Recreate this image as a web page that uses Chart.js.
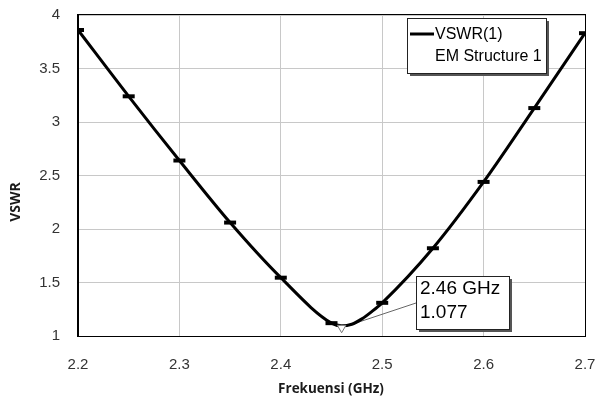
<!DOCTYPE html>
<html>
<head>
<meta charset="utf-8">
<script src="https://cdn.jsdelivr.net/npm/chart.js@4.4.0/dist/chart.umd.min.js"></script>
<style>
	html, body { margin: 0; padding: 0; background: #fff; }
	#wrap { width: 595px; height: 401px; position: relative; }
</style>
</head>
<body>
<div id="wrap"><canvas id="chart"></canvas></div>
<script>
// curve (dashes sit on the 0.05 GHz steps)
const freqGHz = [2.2, 2.25, 2.3, 2.35, 2.4, 2.45, 2.46, 2.47, 2.48, 2.49, 2.5, 2.55, 2.6, 2.65, 2.7];
const vswr = [3.86, 3.24, 2.64, 2.06, 1.545, 1.12, 1.095, 1.11, 1.16, 1.23, 1.31, 1.82, 2.44, 3.13, 3.83];

// marker at the minimum
const markerFreq = [2.46];
const markerVswr = [1.077];
const markerText = ['2.46 GHz', '1.077'];

const legendText = ['VSWR(1)', 'EM Structure 1'];
const xTicks = [2.2, 2.3, 2.4, 2.5, 2.6, 2.7];
const yTicks = [1, 1.5, 2, 2.5, 3, 3.5, 4];
const xTitle = 'Frekuensi (GHz)';
const yTitle = 'VSWR';

const tickFont = { family: '"Liberation Sans", Arial, sans-serif', size: 15 };
const isStep = (f) => Math.abs(f * 20 - Math.round(f * 20)) < 1e-6;

const drawBox = (ctx, x, y, w, h) => {
	ctx.fillStyle = '#555';
	ctx.fillRect(x + 3, y + 3, w, h);
	ctx.fillStyle = '#fff';
	ctx.fillRect(x, y, w, h);
	ctx.strokeStyle = '#222';
	ctx.lineWidth = 1;
	ctx.strokeRect(x + 0.5, y + 0.5, w, h);
};

const overlay = {
	id: 'overlay',
	beforeDatasetsDraw(chart) {
		// leader from the callout to the marker, under the curve
		const { ctx, scales: { x, y } } = chart;
		ctx.save();
		ctx.strokeStyle = '#666';
		ctx.lineWidth = 1;
		ctx.beginPath();
		ctx.moveTo(416, 303);
		ctx.lineTo(x.getPixelForValue(markerFreq[0]), y.getPixelForValue(markerVswr[0]));
		ctx.stroke();
		ctx.restore();
	},
	afterDraw(chart) {
		const { ctx, chartArea: a } = chart;
		ctx.save();

		// plot frame
		ctx.strokeStyle = '#000';
		ctx.lineWidth = 1;
		ctx.strokeRect(Math.round(a.left) - 0.5, Math.round(a.top) - 0.5, Math.round(a.right - a.left) + 1, Math.round(a.bottom - a.top) + 1);

		// axis titles
		ctx.fillStyle = '#1a1a1a';
		ctx.textAlign = 'center';
		ctx.textBaseline = 'middle';
		ctx.font = 'bold 13.5px "Open Sans", sans-serif';
		ctx.fillText(xTitle, 331, 389);
		ctx.save();
		ctx.translate(16, 202);
		ctx.rotate(-Math.PI / 2);
		ctx.font = 'bold 14px "Open Sans", sans-serif';
		ctx.fillText(yTitle, 0, 0);
		ctx.restore();

		// legend
		drawBox(ctx, 407, 18, 139, 55);
		ctx.strokeStyle = '#000';
		ctx.lineWidth = 3;
		ctx.beginPath();
		ctx.moveTo(410, 34);
		ctx.lineTo(434, 34);
		ctx.stroke();
		ctx.fillStyle = '#000';
		ctx.textAlign = 'left';
		ctx.font = '16px "Liberation Sans", Arial, sans-serif';
		ctx.fillText(legendText[0], 435, 35);
		ctx.fillText(legendText[1], 435, 57);

		// callout
		drawBox(ctx, 416, 276, 93, 53);
		ctx.fillStyle = '#000';
		ctx.font = '19px "Liberation Sans", Arial, sans-serif';
		ctx.fillText(markerText[0], 420, 289);
		ctx.fillText(markerText[1], 420, 313);

		ctx.restore();
	},
};

new Chart(document.getElementById('chart'), {
	type: 'line',
	data: {
		datasets: [
			{
				label: 'marker',
				data: markerFreq.map((f, i) => ({ x: f, y: markerVswr[i] })),
				showLine: false,
				pointStyle: 'triangle',
				rotation: 180,
				pointRadius: 5,
				pointBorderColor: '#777',
				pointBackgroundColor: '#fff',
				pointBorderWidth: 1,
				order: 0,
			},
			{
				label: legendText[0],
				data: freqGHz.map((f, i) => ({ x: f, y: vswr[i] })),
				borderColor: '#000',
				backgroundColor: '#000',
				borderWidth: 3,
				cubicInterpolationMode: 'monotone',
				pointStyle: 'line',
				pointRadius: (ctx) => (isStep(freqGHz[ctx.dataIndex]) ? 6 : 0),
				pointBorderWidth: 4,
				pointBorderColor: '#000',
				pointHoverRadius: 0,
				order: 1,
			},
		],
	},
	options: {
		responsive: true,
		maintainAspectRatio: false,
		animation: false,
		events: [],
		layout: {
			padding: { top: 15, right: 8, bottom: 0, left: 0 },
		},
		plugins: {
			legend: { display: false },
			tooltip: { enabled: false },
		},
		scales: {
			x: {
				type: 'linear',
				min: 2.2,
				max: 2.7,
				afterBuildTicks: (s) => { s.ticks = xTicks.map((v) => ({ value: v })); },
				afterFit: (s) => { s.height = 65; s.paddingLeft = 0; s.paddingRight = 0; },
				grid: { color: '#c8c8c8', drawTicks: false },
				border: { color: '#000' },
				ticks: {
					padding: 20,
					color: '#333',
					font: tickFont,
					maxRotation: 0,
					autoSkip: false,
					callback: (v) => String(+v.toFixed(2)),
				},
			},
			y: {
				type: 'linear',
				min: 1,
				max: 4,
				afterBuildTicks: (s) => { s.ticks = yTicks.map((v) => ({ value: v })); },
				afterFit: (s) => { s.width = 78; s.paddingTop = 0; s.paddingBottom = 0; },
				grid: { color: '#c8c8c8', drawTicks: false },
				border: { color: '#000' },
				ticks: {
					padding: 18,
					color: '#333',
					font: tickFont,
					callback: (v) => String(+v.toFixed(2)),
				},
			},
		},
	},
	plugins: [overlay],
});
</script>
</body>
</html>
